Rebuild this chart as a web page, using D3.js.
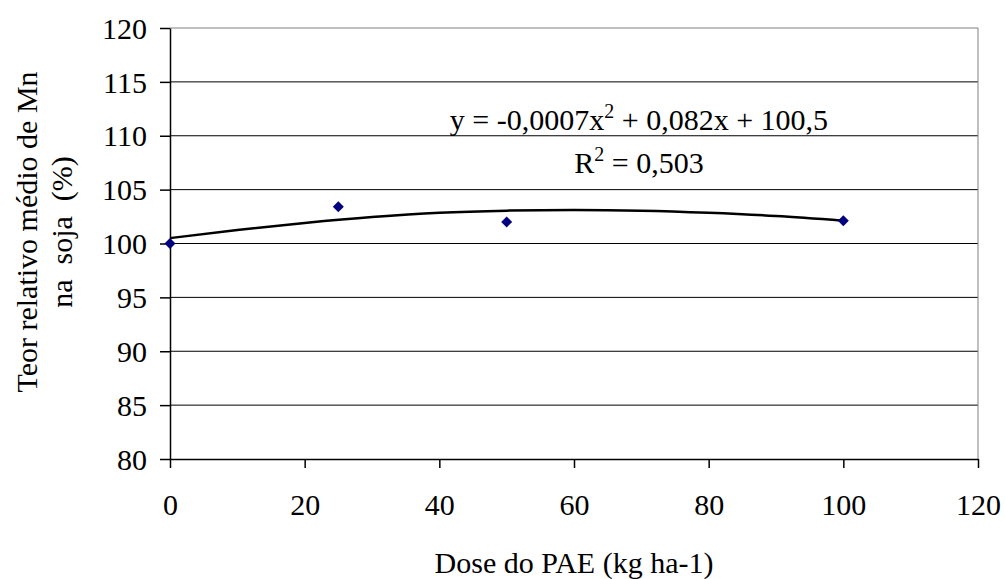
<!DOCTYPE html>
<html>
<head>
<meta charset="utf-8">
<script src="https://cdn.jsdelivr.net/npm/d3@7"></script>
<style>
  html, body { margin: 0; padding: 0; background: #fff; }
  svg text { font-family: 'Liberation Serif', 'Times New Roman', serif; fill: #000; }
</style>
</head>
<body>
<svg id="chart" width="1005" height="579"></svg>
<script>
// observed doses and relative Mn values
const doses = [0, 25, 50, 100];
const teorMn = [100, 103.4, 102, 102.1];

// trendline
const trendX = [0, 10, 20, 30, 40, 50, 60, 70, 80, 90, 100];
const trendY = [100.5, 101.25, 101.9, 102.45, 102.85, 103.05, 103.12, 103.05, 102.85, 102.55, 102.12];

const xTicks = [0, 20, 40, 60, 80, 100, 120];
const yTicks = [80, 85, 90, 95, 100, 105, 110, 115, 120];

const svg = d3.select('#chart');
const plotL = 170, plotR = 978, plotT = 28, plotB = 459;

const x = d3.scaleLinear().domain([0, 120]).range([plotL, plotR]);
const y = d3.scaleLinear().domain([80, 120]).range([plotB, plotT]);

// gridlines
svg.append('g')
  .selectAll('line')
  .data(yTicks.filter(d => d > 80 && d < 120))
  .join('line')
  .attr('x1', plotL).attr('x2', plotR)
  .attr('y1', d => y(d)).attr('y2', d => y(d))
  .attr('stroke', '#000').attr('stroke-width', 1);

// plot border (top and right are grey)
svg.append('line')
  .attr('x1', plotL).attr('x2', plotR).attr('y1', plotT).attr('y2', plotT)
  .attr('stroke', '#808080').attr('stroke-width', 1);
svg.append('line')
  .attr('x1', plotR).attr('x2', plotR).attr('y1', plotT).attr('y2', plotB)
  .attr('stroke', '#808080').attr('stroke-width', 1);

// axes
const yAxis = svg.append('g')
  .attr('transform', `translate(${plotL},0)`)
  .call(d3.axisLeft(y).tickValues(yTicks).tickSize(10).tickPadding(13).tickSizeOuter(0));
const xAxis = svg.append('g')
  .attr('transform', `translate(0,${plotB})`)
  .call(d3.axisBottom(x).tickValues(xTicks).tickSize(9).tickPadding(26).tickSizeOuter(0));

[yAxis, xAxis].forEach(a => {
  a.select('.domain').attr('stroke', '#000').attr('stroke-width', 1.5);
  a.selectAll('.tick line').attr('stroke', '#000').attr('stroke-width', 1.5);
  a.selectAll('text').attr('font-size', 30).attr('font-family', "'Liberation Serif', serif").attr('fill', '#000');
});
yAxis.selectAll('.tick text').attr('dy', '0.34em');

// trendline
const line = d3.line()
  .x((d, i) => x(trendX[i]))
  .y(d => y(d))
  .curve(d3.curveMonotoneX);
svg.append('path')
  .datum(trendY)
  .attr('d', line)
  .attr('fill', 'none')
  .attr('stroke', '#000')
  .attr('stroke-width', 2.5);

// diamond markers
svg.append('g')
  .selectAll('path')
  .data(teorMn)
  .join('path')
  .attr('transform', (d, i) => `translate(${x(doses[i])},${y(d)})`)
  .attr('d', 'M0,-5.5L5.5,0L0,5.5L-5.5,0Z')
  .attr('fill', '#000080');

// equation and R²
const eq = svg.append('text')
  .attr('x', 639).attr('y', 130)
  .attr('text-anchor', 'middle')
  .attr('font-size', 30);
eq.append('tspan').text('y = -0,0007x');
eq.append('tspan').attr('font-size', 20).attr('dy', -12).text('2');
eq.append('tspan').attr('dy', 12).text(' + 0,082x + 100,5');

const r2 = svg.append('text')
  .attr('x', 639).attr('y', 173)
  .attr('text-anchor', 'middle')
  .attr('font-size', 30);
r2.append('tspan').text('R');
r2.append('tspan').attr('font-size', 20).attr('dy', -12).text('2');
r2.append('tspan').attr('dy', 12).text(' = 0,503');

// axis titles
svg.append('text')
  .attr('x', (plotL + plotR) / 2).attr('y', 573)
  .attr('text-anchor', 'middle')
  .attr('font-size', 30)
  .text('Dose do PAE (kg ha-1)');

const yTitle = svg.append('text')
  .attr('transform', 'translate(37,232) rotate(-90)')
  .attr('text-anchor', 'middle')
  .attr('font-size', 30)
  .style('white-space', 'pre');
yTitle.append('tspan').attr('x', 0).attr('y', 0).text('Teor relativo médio de Mn');
yTitle.append('tspan').attr('x', 0).attr('y', 35).text('na  soja  (%)');
</script>
</body>
</html>
